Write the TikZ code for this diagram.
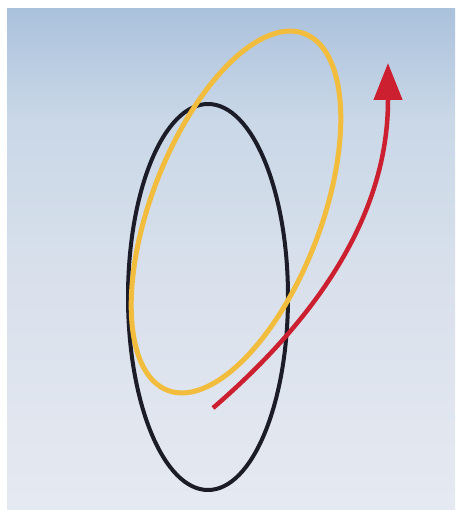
\documentclass[tikz,border=0pt]{standalone}
\usetikzlibrary{arrows.meta}
\definecolor{ringblack}{HTML}{1C1C28}
\definecolor{ringyellow}{HTML}{F2BC3C}
\definecolor{arrowred}{HTML}{CC1F30}
\definecolor{skya}{rgb}{0.90,0.915,0.945}
\definecolor{skyb}{rgb}{0.85,0.88,0.925}
\definecolor{skyc}{rgb}{0.79,0.845,0.905}
\definecolor{skyd}{rgb}{0.67,0.76,0.865}
\pgfdeclareverticalshading{skyshade}{100bp}{
  color(0bp)=(skya);
  color(25bp)=(skya);
  color(48bp)=(skyb);
  color(64bp)=(skyc);
  color(75bp)=(skyd);
  color(100bp)=(skyd)}
\tikzset{
  ringb/.style={draw=ringblack, line width=4pt},
  ringy/.style={draw=ringyellow, line width=5pt},
  redarrow/.style={draw=arrowred, line width=4.5pt, -{Triangle[length=37pt,width=28pt]}}
}
\begin{document}
\begin{tikzpicture}[x=1pt,y=-1pt]
\useasboundingbox (0,0) rectangle (455,510);
\fill[white] (0,0) rectangle (455,510);
\shade[shading=skyshade] (7,9) rectangle (455,510);
% black ellipse
\draw[ringb] (208,297) ellipse [x radius=80, y radius=193];
% yellow ellipse
\draw[ringy] (236,212) ellipse [x radius=191, y radius=85, rotate=69];
% red arrow
\coordinate (rs) at (213,408);
\coordinate (rm) at (388,100);
\coordinate (rt) at (388,63);
\draw[redarrow] (rs) .. controls (330,307) and (388,204) .. (rm) -- (rt);
\end{tikzpicture}
\end{document}
